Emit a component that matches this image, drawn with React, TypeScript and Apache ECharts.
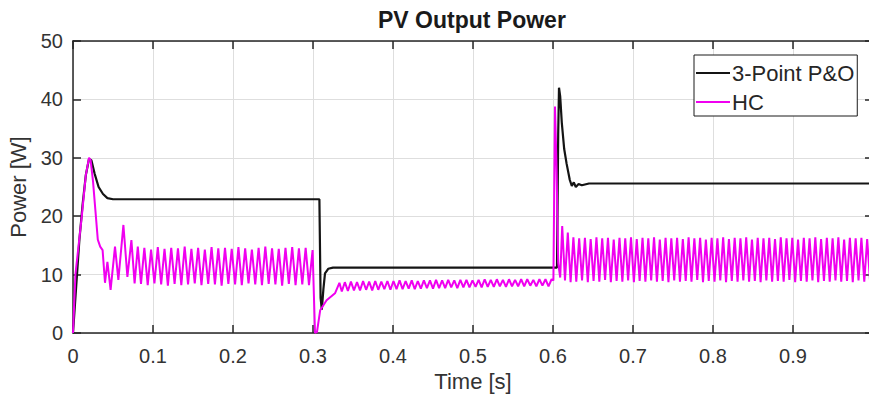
import React, { useEffect, useRef } from "react";
import * as echarts from "echarts";

// ---- data ----
// tick labels (the "1" at the right edge falls outside the visible picture in the reference)
const xTicks = [0, 0.1, 0.2, 0.3, 0.4, 0.5, 0.6, 0.7, 0.8, 0.9];
const yTicks = [0, 10, 20, 30, 40, 50];
const seriesNames = ["3-Point P&O", "HC"];

// 3-Point P&O [time s, power W]
const poPoints: [number, number][] = [
  [0, 0], [0.004, 8], [0.008, 16], [0.012, 22], [0.016, 27], [0.02, 29.8], [0.023, 29.6],
  [0.027, 27.3], [0.032, 25], [0.0375, 23.8], [0.043, 23.1], [0.05, 22.9], [0.308, 22.9],
  [0.3095, 6], [0.311, 4], [0.313, 7.5], [0.315, 10.2], [0.319, 11], [0.325, 11.2],
  [0.605, 11.2], [0.6065, 34], [0.6075, 42], [0.609, 40.5], [0.611, 36], [0.614, 31.5],
  [0.617, 29], [0.621, 26.2], [0.6235, 25.2], [0.626, 25.8], [0.6285, 25.0], [0.632, 25.5],
  [0.636, 25.3], [0.645, 25.6], [1, 25.6],
];

// HC start-up transient [time s, power W]
const hcStartup: [number, number][] = [
  [0, 0], [0.003, 10], [0.007, 15], [0.011, 20], [0.016, 27], [0.02, 30], [0.022, 29.6],
  [0.025, 26], [0.028, 21], [0.031, 16], [0.034, 14.8], [0.037, 14.2], [0.04, 8.6],
  [0.043, 12.2], [0.047, 7.4], [0.0525, 14.8], [0.0567, 9.1], [0.063, 18.5], [0.068, 9.6],
  [0.073, 15.9], [0.077, 8.5], [0.081, 14.8],
];
// HC steady oscillation 0.085 s .. 0.3 s, one value per half period
const hcSeg1Start = 0.085;
const hcSeg1Step = 0.0042;
const hcSeg1: number[] = [
  8.4, 14.6, 8.2, 14.3, 8.5, 14.7, 8.3, 14.4, 8.1, 14.6, 8.4, 14.5, 8.2, 14.8, 8.3, 14.4,
  8.5, 14.6, 8.2, 14.3, 8.4, 14.7, 8.3, 14.5, 8.1, 14.6, 8.4, 14.4, 8.3, 14.7, 8.2, 14.5,
  8.5, 14.3, 8.3, 14.6, 8.2, 14.8, 8.4, 14.5, 8.3, 14.4, 8.1, 14.6, 8.4, 14.7, 8.2, 14.5,
  8.3, 14.6, 8.2,
];
// HC step-down transient
const hcDrop: [number, number][] = [
  [0.2995, 14.2], [0.3025, 0], [0.305, 0.2], [0.309, 3.9], [0.317, 5.6], [0.3275, 6.8], [0.333, 8.6],
];
// HC steady oscillation 0.336 s .. 0.6 s
const hcSeg2Start = 0.336;
const hcSeg2Step = 0.0038;
const hcSeg2: number[] = [
  7.1, 8.7, 7.2, 8.8, 7.3, 8.7, 7.3, 8.9, 7.4, 8.8, 7.3, 8.9, 7.4, 8.8, 7.5, 8.9,
  7.4, 8.9, 7.5, 9.0, 7.5, 8.9, 7.6, 9.0, 7.5, 8.9, 7.6, 9.0, 7.7, 9.0, 7.6, 9.1,
  7.7, 9.0, 7.7, 9.1, 7.8, 9.0, 7.7, 9.1, 7.8, 9.1, 7.8, 9.0, 7.9, 9.1, 7.8, 9.2,
  7.9, 9.1, 7.9, 9.2, 8.0, 9.1, 7.9, 9.2, 8.0, 9.1, 8.0, 9.2, 8.0, 9.2, 8.1, 9.1,
  8.0, 9.2, 8.1, 9.2, 8.0, 9.2,
];
// HC step-up transient
const hcRise: [number, number][] = [
  [0.6005, 9.0], [0.6025, 38.8], [0.6045, 28], [0.6065, 12], [0.609, 9.5], [0.6115, 18.3],
  [0.615, 9.0], [0.6185, 17.2], [0.622, 8.7],
];
// HC steady oscillation 0.6255 s .. 1 s
const hcSeg3Start = 0.6255;
const hcSeg3Step = 0.0036;
const hcSeg3: number[] = [
  16.4, 8.8, 16.2, 9.0, 16.3, 8.7, 16.1, 8.9, 16.4, 8.8, 16.2, 9.1, 16.3, 8.7, 16.0, 8.9,
  16.3, 8.8, 16.2, 9.0, 16.4, 8.7, 16.1, 8.9, 16.3, 8.8, 16.2, 9.0, 16.4, 8.8, 16.0, 8.9,
  16.3, 8.7, 16.2, 9.0, 16.3, 8.8, 16.1, 8.9, 16.4, 8.8, 16.2, 9.1, 16.3, 8.7, 16.0, 8.9,
  16.3, 8.8, 16.2, 9.0, 16.4, 8.7, 16.1, 8.9, 16.3, 8.8, 16.2, 9.0, 16.4, 8.8, 16.0, 8.9,
  16.3, 8.7, 16.2, 9.0, 16.3, 8.8, 16.1, 8.9, 16.4, 8.8, 16.2, 9.1, 16.3, 8.7, 16.0, 8.9,
  16.3, 8.8, 16.2, 9.0, 16.4, 8.7, 16.1, 8.9, 16.3, 8.8, 16.2, 9.0, 16.4, 8.8, 16.0, 8.9,
  16.3, 8.7, 16.2, 9.0, 16.3, 8.8, 16.1, 8.9,
];

function stepped(start: number, step: number, vals: number[]): [number, number][] {
  return vals.map((v, i) => [start + i * step, v]);
}

const hcPoints: [number, number][] = [
  ...hcStartup,
  ...stepped(hcSeg1Start, hcSeg1Step, hcSeg1),
  ...hcDrop,
  ...stepped(hcSeg2Start, hcSeg2Step, hcSeg2),
  ...hcRise,
  ...stepped(hcSeg3Start, hcSeg3Step, hcSeg3),
];

const FONT = "'Liberation Sans', Arial, Helvetica, sans-serif";
const AXIS_COLOR = "#262626";
const LABEL_COLOR = "#333333";
const GRID_COLOR = "#dedede";
const PO_COLOR = "#141414";
const HC_COLOR = "#f000f0";
const LEGEND_LINE = "path://M0,0 H34 V2 H0 Z";

export default function App() {
  const ref = useRef<HTMLDivElement>(null);
  useEffect(() => {
    if (!ref.current) return;
    const chart = echarts.init(ref.current, undefined, { renderer: "svg" });
    const axisLine = { show: true, onZero: false, lineStyle: { color: AXIS_COLOR, width: 1.5 } };
    const tick = { show: true, inside: true, length: 8, lineStyle: { color: AXIS_COLOR, width: 1.5 } };
    chart.setOption({
      animation: false,
      backgroundColor: "#ffffff",
      textStyle: { fontFamily: FONT },
      title: {
        text: "PV Output Power",
        left: 378,
        top: 8,
        padding: 0,
        textStyle: { fontFamily: FONT, fontSize: 23, fontWeight: "bold", color: "#1a1a1a" },
      },
      grid: { left: 73, top: 41, width: 800, height: 292, containLabel: false, outerBoundsMode: "none" },
      legend: {
        orient: "vertical",
        left: 694,
        top: 55,
        padding: [7, 3, 3, 2],
        itemGap: 7,
        itemWidth: 34,
        itemHeight: 20,
        symbolKeepAspect: true,
        backgroundColor: "#ffffff",
        borderColor: "#1a1a1a",
        borderWidth: 1,
        borderRadius: 0,
        data: [
          { name: seriesNames[0], icon: LEGEND_LINE, itemStyle: { color: PO_COLOR } },
          { name: seriesNames[1], icon: LEGEND_LINE, itemStyle: { color: HC_COLOR } },
        ],
        textStyle: { fontFamily: FONT, fontSize: 22, color: "#262626", padding: [0, 0, 0, -3] },
      },
      xAxis: [
        {
          type: "value",
          min: 0,
          max: 1,
          interval: 0.1,
          position: "bottom",
          name: "Time [s]",
          nameLocation: "middle",
          nameGap: 37,
          nameTextStyle: { fontFamily: FONT, fontSize: 22, color: LABEL_COLOR },
          axisLine,
          axisTick: tick,
          axisLabel: {
            margin: 13,
            fontSize: 20,
            color: LABEL_COLOR,
            fontFamily: FONT,
            formatter: (v: number) => {
              const t = xTicks.find((x) => Math.abs(x - v) < 1e-6);
              return t === undefined ? "" : String(t);
            },
          },
          splitLine: { show: true, lineStyle: { color: GRID_COLOR, width: 1 } },
        },
        {
          type: "value",
          min: 0,
          max: 1,
          interval: 0.1,
          position: "top",
          axisLine,
          axisTick: tick,
          axisLabel: { show: false },
          splitLine: { show: false },
        },
      ],
      yAxis: [
        {
          type: "value",
          min: 0,
          max: 50,
          interval: 10,
          position: "left",
          name: "Power [W]",
          nameLocation: "middle",
          nameGap: 38,
          nameTextStyle: { fontFamily: FONT, fontSize: 22, color: LABEL_COLOR },
          axisLine,
          axisTick: tick,
          axisLabel: {
            margin: 10,
            fontSize: 20,
            color: LABEL_COLOR,
            fontFamily: FONT,
            formatter: (v: number) => String(yTicks.find((t) => t === v) ?? v),
          },
          splitLine: { show: true, lineStyle: { color: GRID_COLOR, width: 1 } },
        },
        {
          type: "value",
          min: 0,
          max: 50,
          interval: 10,
          position: "right",
          axisLine,
          axisTick: tick,
          axisLabel: { show: false },
          splitLine: { show: false },
        },
      ],
      series: [
        {
          name: seriesNames[0],
          type: "line",
          xAxisIndex: 0,
          yAxisIndex: 0,
          data: poPoints,
          symbol: "none",
          lineStyle: { color: PO_COLOR, width: 2.2 },
          itemStyle: { color: PO_COLOR },
          z: 2,
        },
        {
          name: seriesNames[1],
          type: "line",
          xAxisIndex: 0,
          yAxisIndex: 0,
          data: hcPoints,
          symbol: "none",
          lineStyle: { color: HC_COLOR, width: 2 },
          itemStyle: { color: HC_COLOR },
          z: 3,
        },
      ],
    });
    return () => chart.dispose();
  }, []);
  return (
    <div
      ref={ref}
      style={{ position: "fixed", left: 0, top: 0, width: 869, height: 401, background: "#fff" }}
    />
  );
}
